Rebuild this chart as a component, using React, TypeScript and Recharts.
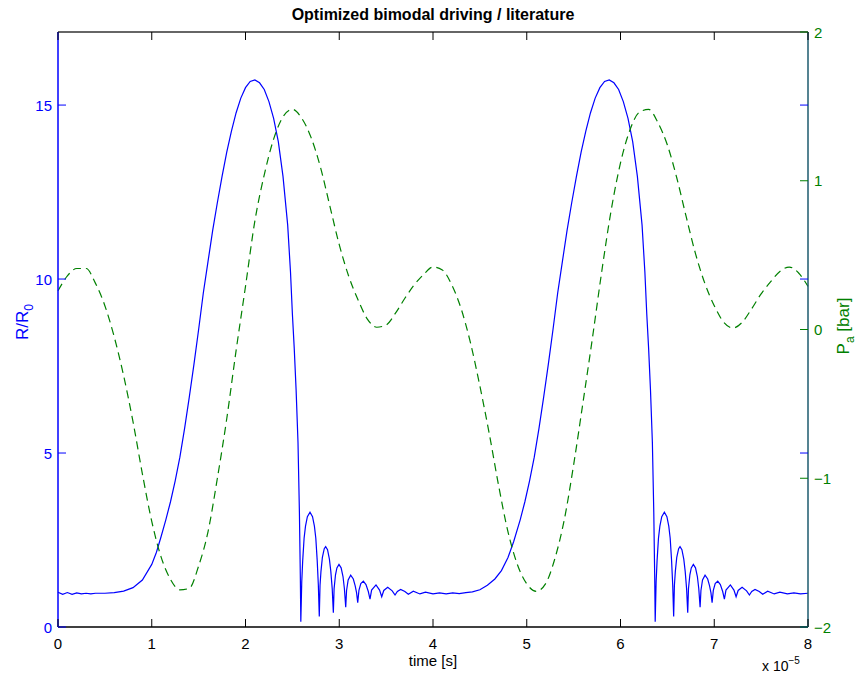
import React from "react";
import { LineChart, Line, XAxis, YAxis, ReferenceLine } from "recharts";

// R/R0, first driving period (time in units of 1e-5 s)
const timeCycle1 = [
  0, 0.05, 0.1, 0.15, 0.2, 0.25, 0.3, 0.35, 0.4, 0.5, 0.6, 0.7, 0.8, 0.9, 1.0,
  1.05, 1.1, 1.15, 1.2, 1.25, 1.3, 1.35, 1.4, 1.45, 1.5, 1.55, 1.6, 1.65, 1.7,
  1.75, 1.8, 1.85, 1.9, 1.95, 2.0, 2.05, 2.1, 2.15, 2.2, 2.25, 2.3, 2.35, 2.4,
  2.45, 2.48, 2.5, 2.52, 2.54, 2.56, 2.575, 2.585, 2.59,
  2.6, 2.61, 2.625, 2.64, 2.66, 2.688, 2.715, 2.735, 2.75, 2.765, 2.777, 2.787,
  2.795, 2.805, 2.82, 2.84, 2.855, 2.875, 2.895, 2.91, 2.925, 2.937,
  2.945, 2.96, 2.975, 2.997, 3.02, 3.04, 3.055, 3.069,
  3.078, 3.095, 3.122, 3.15, 3.17, 3.185, 3.197,
  3.21, 3.23, 3.257, 3.285, 3.31, 3.328,
  3.345, 3.392, 3.43, 3.453, 3.475, 3.517, 3.565, 3.595,
  3.62, 3.655, 3.7, 3.737, 3.79, 3.86, 3.92, 4.0,
  4.07, 4.14, 4.21, 4.28, 4.35, 4.42,
];
const radiusCycle1 = [
  1.0, 0.94, 0.99, 0.94, 0.98, 0.95, 0.97, 0.95, 0.97, 0.97, 0.99, 1.03, 1.13, 1.35, 1.8,
  2.15, 2.6, 3.08, 3.6, 4.2, 4.88, 5.7, 6.6, 7.55, 8.55, 9.6, 10.5, 11.4, 12.2,
  12.95, 13.65, 14.25, 14.78, 15.2, 15.5, 15.68, 15.72, 15.64, 15.45, 15.1, 14.62, 13.95, 12.95,
  11.55, 10.2, 9.0, 8.0, 6.8, 5.3, 3.3, 1.4, 0.15,
  1.3, 1.9, 2.55, 2.9, 3.17, 3.3, 3.17, 2.9, 2.55, 1.9, 1.2, 0.3,
  1.2, 1.6, 2.0, 2.25, 2.31, 2.22, 1.95, 1.6, 1.1, 0.41,
  1.1, 1.5, 1.7, 1.8, 1.7, 1.45, 1.1, 0.57,
  1.05, 1.35, 1.49, 1.38, 1.18, 0.98, 0.7,
  1.05, 1.25, 1.32, 1.22, 1.02, 0.8,
  1.06, 1.21, 1.06, 0.87, 1.05, 1.14, 1.04, 0.92,
  1.02, 1.08, 1.02, 0.94, 1.03, 0.95, 1.0, 0.95,
  0.98, 0.95, 0.98, 0.96, 0.99, 1.01,
];

// R/R0, second driving period
const timeCycle2 = [
  4.5, 4.58, 4.66, 4.73, 4.8, 4.86, 4.93, 4.98, 5.03, 5.08, 5.13, 5.18, 5.23,
  5.28, 5.33, 5.38, 5.43, 5.48, 5.53, 5.58, 5.63, 5.68, 5.73, 5.78, 5.83, 5.88,
  5.93, 5.98, 6.03, 6.08, 6.13, 6.18, 6.23, 6.26, 6.28, 6.3, 6.32, 6.34, 6.355,
  6.365, 6.37,
  6.38, 6.39, 6.405, 6.42, 6.44, 6.468, 6.495, 6.515, 6.53, 6.545, 6.557, 6.567,
  6.575, 6.585, 6.6, 6.62, 6.635, 6.655, 6.675, 6.69, 6.705, 6.717,
  6.725, 6.74, 6.755, 6.777, 6.8, 6.82, 6.835, 6.849,
  6.858, 6.875, 6.902, 6.93, 6.95, 6.965, 6.977,
  6.99, 7.01, 7.037, 7.065, 7.09, 7.108,
  7.125, 7.172, 7.21, 7.233, 7.255, 7.297, 7.345, 7.375,
  7.4, 7.435, 7.48, 7.517, 7.57, 7.64, 7.7, 7.78,
  7.85, 7.92, 8.0,
];
const radiusCycle2 = [
  1.07, 1.2, 1.38, 1.62, 2.0, 2.45, 3.08, 3.6, 4.2, 4.88, 5.7, 6.6, 7.55,
  8.55, 9.6, 10.5, 11.4, 12.2, 12.95, 13.65, 14.25, 14.78, 15.2, 15.5, 15.68, 15.72,
  15.64, 15.45, 15.1, 14.62, 13.95, 12.95, 11.55, 10.2, 9.0, 8.0, 6.8, 5.3, 3.3,
  1.4, 0.15,
  1.3, 1.9, 2.55, 2.9, 3.17, 3.3, 3.17, 2.9, 2.55, 1.9, 1.2, 0.3,
  1.2, 1.6, 2.0, 2.25, 2.31, 2.22, 1.95, 1.6, 1.1, 0.41,
  1.1, 1.5, 1.7, 1.8, 1.7, 1.45, 1.1, 0.57,
  1.05, 1.35, 1.49, 1.38, 1.18, 0.98, 0.7,
  1.05, 1.25, 1.32, 1.22, 1.02, 0.8,
  1.06, 1.21, 1.06, 0.87, 1.05, 1.14, 1.04, 0.92,
  1.02, 1.08, 1.02, 0.94, 1.03, 0.95, 1.0, 0.95,
  0.98, 0.95, 0.97,
];

// driving pressure P_a [bar], one value every 0.1e-5 s from 0 to 8
const pressure = [
  0.26, 0.36, 0.41, 0.41, 0.31, 0.16, -0.05, -0.31, -0.62, -0.97,
  -1.29, -1.53, -1.68, -1.75, -1.74, -1.59, -1.36, -1.0, -0.6, -0.14,
  0.29, 0.73, 1.04, 1.28, 1.43, 1.48, 1.42, 1.29, 1.09, 0.83,
  0.57, 0.36, 0.2, 0.07, 0.015, 0.03, 0.11, 0.21, 0.3, 0.37,
  0.42, 0.4, 0.3, 0.14, -0.09, -0.38, -0.7, -1.05, -1.36, -1.58,
  -1.71, -1.76, -1.71, -1.54, -1.28, -0.91, -0.49, -0.06, 0.39, 0.8,
  1.12, 1.34, 1.46, 1.48, 1.39, 1.24, 1.02, 0.76, 0.51, 0.31,
  0.16, 0.05, 0.01, 0.05, 0.14, 0.24, 0.32, 0.39, 0.42, 0.38,
  0.29,
];

const xTicks = [0, 1, 2, 3, 4, 5, 6, 7, 8];
const rTicks = [0, 5, 10, 15];
const pTicks = [-2, -1, 0, 1, 2];

const radiusData = [
  ...timeCycle1.map((t, i) => ({ t, r: radiusCycle1[i] })),
  ...timeCycle2.map((t, i) => ({ t, r: radiusCycle2[i] })),
];
const pressureData = pressure.map((p, i) => ({ t: i / 10, p }));

const BLUE = "#0000ff";
const GREEN = "#008000";
const FONT = "'Liberation Sans', Arial, Helvetica, sans-serif";

// plot box (from the margins and axis sizes below)
const PLOT_LEFT = 58;
const PLOT_RIGHT = 808;
const PLOT_TOP = 32;
const TICK_LEN = 8;
const GAP = 6;

const BottomTick = (props: any) => {
  const { x, y, payload } = props;
  const axisY = y - GAP;
  return (
    <g>
      <line x1={x} x2={x} y1={axisY} y2={axisY - TICK_LEN} stroke="#000" />
      <line x1={x} x2={x} y1={PLOT_TOP} y2={PLOT_TOP + TICK_LEN} stroke="#000" />
      <text x={x} y={axisY + 16} textAnchor="middle" dominantBaseline="central"
        fontSize={15} fontFamily={FONT} fill="#000">
        {payload.value}
      </text>
    </g>
  );
};

const LeftTick = (props: any) => {
  const { x, y, payload } = props;
  return (
    <g>
      <line x1={PLOT_LEFT} x2={PLOT_LEFT + TICK_LEN} y1={y} y2={y} stroke={BLUE} />
      <line x1={PLOT_RIGHT} x2={PLOT_RIGHT - TICK_LEN} y1={y} y2={y} stroke={BLUE} />
      <text x={x} y={y} textAnchor="end" dominantBaseline="central"
        fontSize={15} fontFamily={FONT} fill={BLUE}>
        {payload.value}
      </text>
    </g>
  );
};

const RightTick = (props: any) => {
  const { x, y, payload } = props;
  const axisX = x - GAP;
  const v = payload.value < 0 ? "\u2212" + Math.abs(payload.value) : String(payload.value);
  return (
    <g>
      <line x1={axisX} x2={axisX - TICK_LEN} y1={y} y2={y} stroke={GREEN} />
      <text x={x} y={y} textAnchor="start" dominantBaseline="central"
        fontSize={15} fontFamily={FONT} fill={GREEN}>
        {v}
      </text>
    </g>
  );
};

export default function App() {
  return (
    <div style={{ position: "absolute", left: 0, top: 0, background: "#fff" }}>
      <LineChart width={861} height={684} margin={{ top: 32, right: 13, bottom: 27, left: 18 }}>
        <XAxis dataKey="t" type="number" domain={[0, 8]} ticks={xTicks} interval={0}
          height={30} tickSize={0} tickMargin={GAP} tickLine={false}
          axisLine={{ stroke: "#000", strokeWidth: 1.5 }} tick={<BottomTick />} />
        <YAxis yAxisId="left" type="number" domain={[0, 17.1]} ticks={rTicks} interval={0}
          width={40} tickSize={0} tickMargin={GAP} tickLine={false}
          axisLine={{ stroke: BLUE, strokeWidth: 1.5 }} tick={<LeftTick />} />
        <YAxis yAxisId="right" orientation="right" type="number" domain={[-2, 2]} ticks={pTicks}
          interval={0} width={40} tickSize={0} tickMargin={GAP} tickLine={false}
          axisLine={{ stroke: "#1d5a6e", strokeWidth: 1.5 }} tick={<RightTick />} />
        <ReferenceLine yAxisId="left" y={17.1} stroke="#333" strokeWidth={1.5} />
        <Line data={radiusData} yAxisId="left" dataKey="r" type="linear" stroke={BLUE}
          strokeWidth={1.2} dot={false} activeDot={false} isAnimationActive={false} />
        <Line data={pressureData} yAxisId="right" dataKey="p" type="monotone" stroke={GREEN}
          strokeWidth={1.2} strokeDasharray="8 5" dot={false} activeDot={false}
          isAnimationActive={false} />
        <text x={433} y={20} textAnchor="middle" fontSize={16} fontWeight="bold"
          fontFamily={FONT} fill="#000">
          Optimized bimodal driving / literature
        </text>
        <text x={433} y={666} textAnchor="middle" fontSize={15} fontFamily={FONT} fill="#000">
          time [s]
        </text>
        <text x={762} y={671} fontSize={14} fontFamily={FONT} fill="#000">
          x 10<tspan dy={-7} fontSize={10}>{"\u22125"}</tspan>
        </text>
        <text transform="translate(28 322) rotate(-90)" textAnchor="middle" fontSize={17}
          fontFamily={FONT} fill={BLUE}>
          R/R<tspan dy={5} fontSize={12}>0</tspan>
        </text>
        <text transform="translate(849 326) rotate(-90)" textAnchor="middle" fontSize={17}
          fontFamily={FONT} fill={GREEN}>
          P<tspan dy={5} fontSize={12}>a</tspan>
          <tspan dy={-5}> [bar]</tspan>
        </text>
      </LineChart>
    </div>
  );
}
